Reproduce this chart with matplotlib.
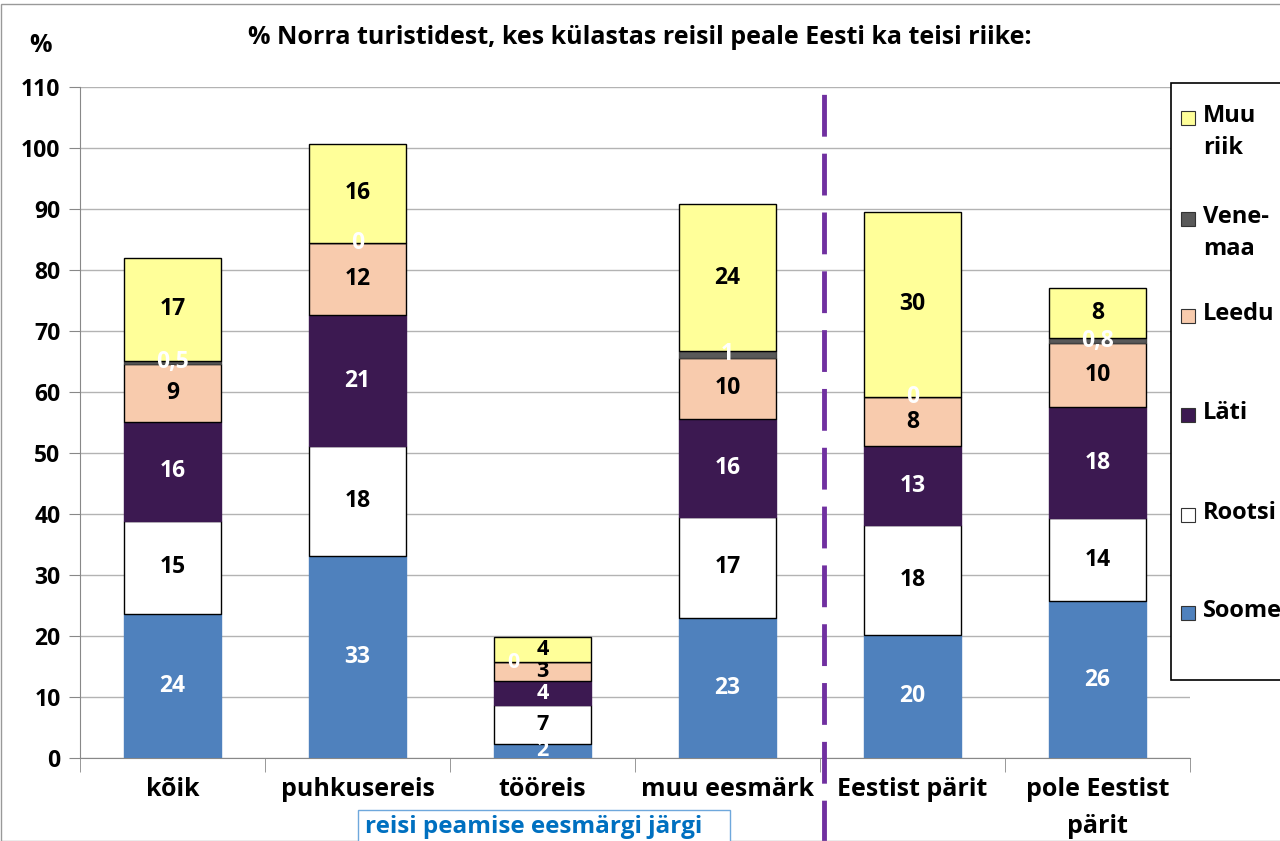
import matplotlib.pyplot as plt
from matplotlib.patches import Rectangle
import numpy as np

plt.rcParams['font.family'] = ['Open Sans', 'DejaVu Sans']
plt.rcParams['font.weight'] = 'bold'

categories = ['kõik', 'puhkusereis', 'tööreis', 'muu eesmärk', 'Eestist pärit', 'pole Eestist\npärit']
series = ['Soome', 'Rootsi', 'Läti', 'Leedu', 'Venemaa', 'Muu riik']
legend_names = ['Soome', 'Rootsi', 'Läti', 'Leedu', 'Vene-\nmaa', 'Muu\nriik']

soome = [23.6, 33.1, 2.3, 23.0, 20.2, 25.7]
rootsi = [15.3, 18.0, 6.4, 16.5, 18.0, 13.6]
lati = [16.2, 21.5, 3.9, 16.1, 12.9, 18.2]
leedu = [9.5, 11.8, 3.1, 10.0, 8.1, 10.5]
venemaa = [0.5, 0.0, 0.0, 1.1, 0.0, 0.8]
muu = [16.9, 16.3, 4.1, 24.1, 30.3, 8.2]

lab_soome = ['24', '33', '2', '23', '20', '26']
lab_rootsi = ['15', '18', '7', '17', '18', '14']
lab_lati = ['16', '21', '4', '16', '13', '18']
lab_leedu = ['9', '12', '3', '10', '8', '10']
lab_venemaa = ['0,5', '0', '0', '1', '0', '0,8']
lab_muu = ['17', '16', '4', '24', '30', '8']

values = [soome, rootsi, lati, leedu, venemaa, muu]
labels = [lab_soome, lab_rootsi, lab_lati, lab_leedu, lab_venemaa, lab_muu]
colors = ['#4F81BD', '#FFFFFF', '#3C1951', '#F8CBAD', '#595959', '#FFFF99']
edges = ['#4F81BD', 'black', '#3C1951', 'black', '#404040', 'black']
text_colors = ['white', 'black', 'white', 'black', 'white', 'black']

fig = plt.figure(figsize=(12.8, 8.41), dpi=100)
ax = fig.add_axes([80 / 1280, 1 - 758 / 841, 1110 / 1280, (758 - 87) / 841])

x = np.arange(len(categories))
bottom = np.zeros(len(categories))
for vals, labs, col, ec, tc in zip(values, labels, colors, edges, text_colors):
    vals = np.array(vals)
    ax.bar(x, vals, 0.52, bottom=bottom, color=col, edgecolor=ec, linewidth=1, zorder=3)
    for i in range(len(x)):
        dx = -0.16 if (tc == 'white' and vals[i] == 0 and i == 2) else 0
        # the short tööreis segments get a slightly smaller label
        fs = 15.5 if i == 2 else 16.5
        ax.text(x[i] + dx, bottom[i] + vals[i] / 2, labs[i], ha='center', va='center',
                color=tc, fontsize=fs, fontweight='bold', zorder=4)
    bottom += vals

ax.set_ylim(0, 110)
ax.set_xlim(-0.5, len(categories) - 0.5)
ax.set_yticks(np.arange(0, 111, 10))
ax.yaxis.grid(True, color='#B3B3B3', linewidth=1, zorder=0)
ax.tick_params(axis='y', labelsize=16.5, length=8, color='#888888', pad=6)
for t in ax.get_yticklabels():
    t.set_fontweight('bold')
ax.set_xticks(x)
ax.set_xticklabels(categories, fontsize=18, fontweight='bold', linespacing=1.6)
ax.tick_params(axis='x', length=0, pad=14)
ax.set_xticks(np.arange(-0.5, len(categories), 1), minor=True)
ax.tick_params(axis='x', which='minor', length=10, color='#888888')
for s in ['top', 'right']:
    ax.spines[s].set_visible(False)
ax.spines['left'].set_color('#888888')
ax.spines['bottom'].set_color('#888888')

ax.plot([3.52, 3.52], [-14, 110], color='#7030A0', linewidth=3.5,
        linestyle=(0, (8.6, 3.5)), clip_on=False, zorder=5)

fig.text(40 / 1280, 1 - 45 / 841, '%', fontsize=18, fontweight='bold', ha='center', va='center')
fig.text(640 / 1280, 1 - 38 / 841, '% Norra turistidest, kes külastas reisil peale Eesti ka teisi riike:',
         fontsize=18, fontweight='bold', ha='center', va='center')

# legend box
fig.patches.append(Rectangle((1171 / 1280, 1 - 680 / 841), 0.2, (680 - 83) / 841,
                             transform=fig.transFigure, facecolor='white', edgecolor='black',
                             linewidth=1.2, zorder=10))
leg_y = [613, 515, 415, 316, 219, 118]
for name, col, y in zip(legend_names, colors, leg_y):
    fig.patches.append(Rectangle((1181 / 1280, 1 - (y + 7) / 841), 14 / 1280, 14 / 841,
                                 transform=fig.transFigure, facecolor=col, edgecolor='#333333',
                                 linewidth=0.8, zorder=11))
    fig.text(1203 / 1280, 1 - (y - 14) / 841, name, fontsize=17, fontweight='bold',
             ha='left', va='top', linespacing=1.45, zorder=12)

# annotation box under the axis
fig.patches.append(Rectangle((358 / 1280, -0.02), 372 / 1280, 0.02 + 31 / 841,
                             transform=fig.transFigure, facecolor='white', edgecolor='#6FA8DC',
                             linewidth=1, zorder=10))
fig.text(365 / 1280, 1 - 827 / 841, 'reisi peamise eesmärgi järgi', fontsize=17.5,
         fontweight='bold', color='#0070C0', ha='left', va='center', zorder=12)

# outer frame
fig.patches.append(Rectangle((0.5 / 1280, 0), 1, 1 - 4 / 841, transform=fig.transFigure,
                             facecolor='none', edgecolor='#999999', linewidth=1, zorder=0))

fig.savefig('out.png', dpi=100)
